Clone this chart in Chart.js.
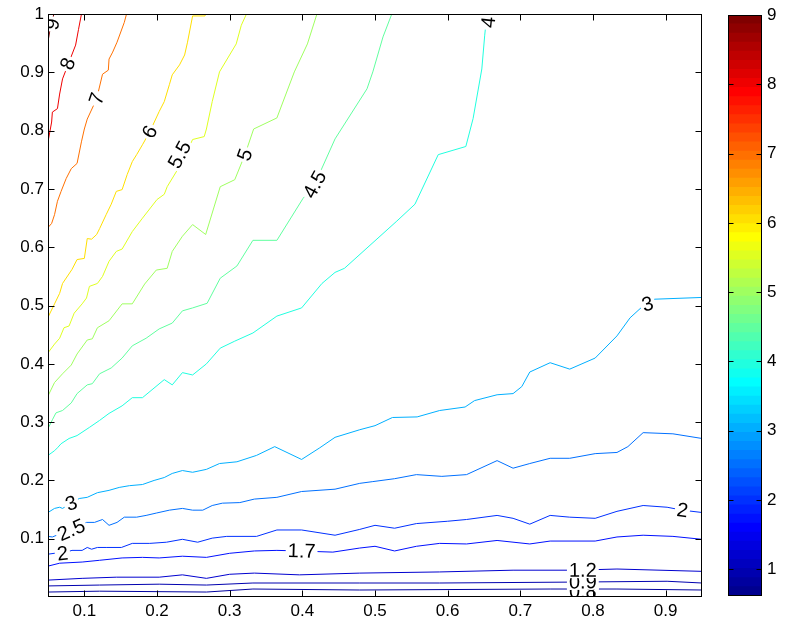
<!DOCTYPE html>
<html>
<head>
    <title>Contour plot</title>
    <script src="https://cdn.jsdelivr.net/npm/chart.js"></script>
    <style>
        body { margin: 0; background: #fff; }
        #wrap { position: relative; width: 789px; height: 619px; }
        #plot { position: absolute; left: 0; top: 0; }
        #cbar { position: absolute; left: 715px; top: 0; }
    </style>
</head>
<body>
<div id="wrap">
    <canvas id="plot" width="715" height="619"></canvas>
    <canvas id="cbar" width="74" height="619"></canvas>
</div>
<script>
    // axis ticks
    const xTicks = [0.1, 0.2, 0.3, 0.4, 0.5, 0.6, 0.7, 0.8, 0.9];
    const yTicks = [0.1, 0.2, 0.3, 0.4, 0.5, 0.6, 0.7, 0.8, 0.9, 1];
    const cbarTicks = [1, 2, 3, 4, 5, 6, 7, 8, 9];
    const cMin = 0.613, cMax = 9.0;

    // contour lines, [x, y]
    const c9 = [[0.05,0.953],[0.052,0.968],[0.055,0.985],[0.058,1.0]];
    const c8 = [[0.096,1.0],[0.092,0.974],[0.088,0.947],[0.079,0.918],[0.070,0.889],[0.066,0.863],[0.063,0.838],[0.056,0.832],[0.055,0.815],[0.05,0.781]];
    const c7 = [[0.158,1.0],[0.155,0.986],[0.145,0.952],[0.139,0.935],[0.134,0.923],[0.133,0.904],[0.125,0.897],[0.117,0.855],[0.104,0.82],[0.1,0.803],[0.096,0.781],[0.09,0.744],[0.082,0.735],[0.075,0.718],[0.068,0.696],[0.063,0.679],[0.059,0.656],[0.055,0.641],[0.05,0.634]];
    const c6 = [[0.267,1.0],[0.266,0.997],[0.249,0.997],[0.242,0.952],[0.238,0.93],[0.231,0.913],[0.221,0.896],[0.217,0.879],[0.21,0.85],[0.203,0.833],[0.19,0.798],[0.18,0.776],[0.172,0.759],[0.166,0.747],[0.159,0.725],[0.152,0.699],[0.144,0.696],[0.137,0.674],[0.13,0.656],[0.121,0.632],[0.117,0.622],[0.11,0.614],[0.104,0.615],[0.1,0.581],[0.09,0.579],[0.083,0.562],[0.07,0.538],[0.066,0.521],[0.059,0.503],[0.05,0.48]];
    const c55 = [[0.323,1.0],[0.316,0.981],[0.309,0.949],[0.286,0.901],[0.276,0.85],[0.268,0.803],[0.265,0.79],[0.249,0.785],[0.235,0.747],[0.214,0.704],[0.21,0.691],[0.2,0.682],[0.18,0.65],[0.166,0.627],[0.152,0.597],[0.144,0.593],[0.134,0.576],[0.125,0.55],[0.118,0.538],[0.107,0.533],[0.103,0.513],[0.097,0.503],[0.086,0.487],[0.079,0.465],[0.072,0.462],[0.066,0.444],[0.059,0.434],[0.05,0.419]];
    const c5 = [[0.42,1.0],[0.407,0.949],[0.389,0.901],[0.365,0.822],[0.333,0.803],[0.321,0.759],[0.307,0.716],[0.287,0.704],[0.267,0.622],[0.249,0.639],[0.235,0.619],[0.221,0.593],[0.214,0.564],[0.199,0.561],[0.183,0.537],[0.166,0.503],[0.152,0.503],[0.134,0.474],[0.118,0.462],[0.111,0.443],[0.104,0.441],[0.09,0.417],[0.082,0.398],[0.07,0.383],[0.059,0.368],[0.05,0.345]];
    const c45 = [[0.523,1.0],[0.511,0.961],[0.497,0.901],[0.489,0.872],[0.445,0.786],[0.417,0.708],[0.401,0.684],[0.365,0.612],[0.332,0.612],[0.31,0.568],[0.287,0.547],[0.269,0.504],[0.249,0.496],[0.235,0.491],[0.221,0.47],[0.203,0.46],[0.185,0.444],[0.166,0.431],[0.152,0.41],[0.137,0.393],[0.121,0.383],[0.111,0.366],[0.104,0.364],[0.09,0.349],[0.082,0.333],[0.07,0.32],[0.061,0.316],[0.056,0.304],[0.05,0.289]];
    const c4 = [[0.654,1.0],[0.651,0.964],[0.647,0.906],[0.635,0.821],[0.625,0.773],[0.587,0.759],[0.555,0.674],[0.53,0.645],[0.458,0.564],[0.445,0.557],[0.427,0.538],[0.399,0.496],[0.365,0.482],[0.332,0.453],[0.307,0.439],[0.287,0.427],[0.268,0.4],[0.249,0.381],[0.235,0.385],[0.221,0.364],[0.21,0.373],[0.18,0.342],[0.166,0.342],[0.152,0.328],[0.134,0.315],[0.121,0.303],[0.107,0.291],[0.09,0.277],[0.079,0.272],[0.068,0.263],[0.063,0.256],[0.059,0.251],[0.05,0.243]];
    const c3 = [[0.05,0.145],[0.059,0.152],[0.066,0.154],[0.07,0.152],[0.082,0.161],[0.093,0.169],[0.104,0.171],[0.118,0.179],[0.134,0.183],[0.148,0.188],[0.162,0.191],[0.18,0.193],[0.196,0.2],[0.21,0.205],[0.221,0.212],[0.235,0.217],[0.249,0.214],[0.268,0.219],[0.286,0.229],[0.31,0.232],[0.337,0.243],[0.362,0.258],[0.399,0.236],[0.424,0.256],[0.445,0.274],[0.479,0.287],[0.5,0.294],[0.524,0.308],[0.558,0.309],[0.589,0.32],[0.624,0.326],[0.637,0.337],[0.668,0.347],[0.69,0.349],[0.702,0.361],[0.713,0.386],[0.741,0.402],[0.768,0.391],[0.803,0.41],[0.833,0.448],[0.851,0.479],[0.872,0.503],[0.885,0.511],[0.95,0.514]];
    const c25 = [[0.05,0.104],[0.056,0.103],[0.066,0.108],[0.082,0.115],[0.103,0.128],[0.114,0.128],[0.125,0.133],[0.134,0.123],[0.145,0.128],[0.155,0.137],[0.172,0.137],[0.185,0.14],[0.199,0.144],[0.217,0.149],[0.235,0.152],[0.249,0.149],[0.263,0.149],[0.276,0.157],[0.29,0.161],[0.314,0.162],[0.334,0.168],[0.365,0.171],[0.399,0.181],[0.445,0.185],[0.479,0.195],[0.497,0.198],[0.527,0.203],[0.557,0.21],[0.592,0.207],[0.626,0.21],[0.668,0.234],[0.69,0.221],[0.713,0.229],[0.741,0.238],[0.768,0.238],[0.803,0.246],[0.833,0.248],[0.848,0.258],[0.869,0.282],[0.91,0.28],[0.95,0.272]];
    const c2 = [[0.05,0.0735],[0.059,0.075],[0.07,0.075],[0.083,0.08],[0.097,0.08],[0.104,0.085],[0.11,0.082],[0.118,0.085],[0.13,0.085],[0.151,0.085],[0.166,0.092],[0.19,0.092],[0.213,0.094],[0.235,0.099],[0.256,0.094],[0.276,0.101],[0.296,0.104],[0.337,0.104],[0.365,0.115],[0.399,0.115],[0.445,0.106],[0.479,0.116],[0.5,0.123],[0.527,0.118],[0.557,0.126],[0.6,0.13],[0.626,0.133],[0.668,0.14],[0.69,0.135],[0.713,0.125],[0.741,0.14],[0.768,0.137],[0.803,0.135],[0.833,0.147],[0.869,0.157],[0.902,0.154],[0.923,0.149],[0.95,0.145]];
    const c17 = [[0.05,0.053],[0.066,0.058],[0.097,0.06],[0.121,0.063],[0.152,0.067],[0.18,0.068],[0.203,0.067],[0.235,0.07],[0.268,0.068],[0.3,0.075],[0.334,0.079],[0.365,0.08],[0.396,0.079],[0.442,0.077],[0.479,0.084],[0.5,0.087],[0.527,0.079],[0.557,0.087],[0.589,0.092],[0.626,0.091],[0.668,0.097],[0.713,0.091],[0.741,0.096],[0.803,0.096],[0.833,0.103],[0.869,0.106],[0.91,0.104],[0.95,0.099]];
    const c12 = [[0.05,0.029],[0.097,0.032],[0.144,0.034],[0.203,0.034],[0.235,0.038],[0.268,0.032],[0.3,0.039],[0.334,0.041],[0.396,0.038],[0.479,0.041],[0.589,0.043],[0.69,0.046],[0.775,0.046],[0.833,0.048],[0.95,0.044]];
    const c09 = [[0.05,0.019],[0.121,0.0205],[0.203,0.022],[0.268,0.0205],[0.332,0.024],[0.479,0.024],[0.589,0.024],[0.773,0.0256],[0.902,0.027],[0.95,0.024]];
    const c08 = [[0.05,0.0085],[0.121,0.01],[0.268,0.0085],[0.332,0.0137],[0.479,0.012],[0.741,0.0137],[0.833,0.0137],[0.95,0.012]];

    const levels = [9, 8, 7, 6, 5.5, 5, 4.5, 4, 3, 2.5, 2, 1.7, 1.2, 0.9, 0.8];
    const lines = [c9, c8, c7, c6, c55, c5, c45, c4, c3, c25, c2, c17, c12, c09, c08];

    // inline labels
    const labelText = ['0.8', '0.9', '1.2', '1.7', '2', '2', '2.5', '3', '3', '4', '4.5', '5', '5.5', '6', '7', '8', '9'];
    const labelX = [0.786, 0.786, 0.786, 0.399, 0.07, 0.923, 0.082, 0.082, 0.875, 0.656, 0.417, 0.321, 0.231, 0.19, 0.117, 0.077, 0.056];
    const labelY = [0.01, 0.026, 0.046, 0.079, 0.075, 0.149, 0.115, 0.161, 0.503, 0.986, 0.708, 0.759, 0.759, 0.798, 0.855, 0.915, 0.983];

    const FONT = '"Liberation Sans", Helvetica, Arial, sans-serif';

    // matlab jet(64)
    function jet64() {
        const rows = [];
        for (let i = 0; i < 64; i++) rows.push([0, 0, 0]);
        for (let k = 0; k < 47; k++) {
            const u = k < 16 ? (k + 1) / 16 : (k < 31 ? 1 : (47 - k) / 16);
            const g = 8 + k, r = g + 16, b = g - 16;
            if (r < 64) rows[r][0] = u;
            if (g < 64) rows[g][1] = u;
            if (b >= 0 && b < 64) rows[b][2] = u;
        }
        return rows.map(c => 'rgb(' + c.map(v => Math.round(v * 255)).join(',') + ')');
    }
    const jet = jet64();
    function levelColor(v) {
        let i = Math.floor((v - cMin) / (cMax - cMin) * 64);
        return jet[Math.max(0, Math.min(63, i))];
    }

    const contourLabels = {
        id: 'contourLabels',
        afterDatasetsDraw(chart) {
            const { ctx, chartArea: a, scales: { x, y } } = chart;
            ctx.save();
            ctx.beginPath();
            ctx.rect(a.left, a.top, a.right - a.left, a.bottom - a.top);
            ctx.clip();
            ctx.font = '20px ' + FONT;
            ctx.textAlign = 'center';
            ctx.textBaseline = 'middle';
            labelText.forEach((t, i) => {
                const px = x.getPixelForValue(labelX[i]), py = y.getPixelForValue(labelY[i]);
                const pts = lines[levels.indexOf(parseFloat(t))].map(p => [x.getPixelForValue(p[0]), y.getPixelForValue(p[1])]);
                let k = 0, best = Infinity;
                pts.forEach((p, j) => {
                    const d = Math.hypot(p[0] - px, p[1] - py);
                    if (d < best) { best = d; k = j; }
                });
                let a0 = k, a1 = k;
                while (a0 > 0 && Math.hypot(pts[a0][0] - px, pts[a0][1] - py) < 12) a0--;
                while (a1 < pts.length - 1 && Math.hypot(pts[a1][0] - px, pts[a1][1] - py) < 12) a1++;
                let ang = Math.atan2(pts[a1][1] - pts[a0][1], pts[a1][0] - pts[a0][0]);
                if (ang > Math.PI / 2) ang -= Math.PI;
                if (ang < -Math.PI / 2) ang += Math.PI;
                ctx.save();
                ctx.translate(px, py);
                ctx.rotate(ang);
                const w = ctx.measureText(t).width;
                ctx.fillStyle = '#fff';
                ctx.fillRect(-w / 2 - 2, -8, w + 4, 16);
                ctx.fillStyle = '#000';
                ctx.fillText(t, 0, 1);
                ctx.restore();
            });
            ctx.restore();
        }
    };

    // box with inward ticks, like matlab
    function boxPlugin(tickLen, xt, yt) {
        return {
            id: 'box',
            afterDraw(chart) {
                const { ctx, chartArea: a, scales } = chart;
                const L = Math.round(a.left) + 0.5, R = Math.round(a.right) - 0.5;
                const T = Math.round(a.top) + 0.5, B = Math.round(a.bottom) - 0.5;
                ctx.save();
                ctx.strokeStyle = '#000';
                ctx.lineWidth = 1;
                ctx.beginPath();
                if (xt) xt.forEach(v => {
                    const p = Math.round(scales.x.getPixelForValue(v)) + 0.5;
                    ctx.moveTo(p, B); ctx.lineTo(p, B - tickLen);
                    ctx.moveTo(p, T); ctx.lineTo(p, T + tickLen);
                });
                yt.forEach(v => {
                    const p = Math.round(scales.y.getPixelForValue(v)) + 0.5;
                    ctx.moveTo(L, p); ctx.lineTo(L + tickLen, p);
                    ctx.moveTo(R, p); ctx.lineTo(R - tickLen, p);
                });
                ctx.stroke();
                ctx.strokeRect(L, T, R - L, B - T);
                ctx.restore();
            }
        };
    }

    Chart.defaults.font.family = FONT;
    Chart.defaults.color = '#000';

    new Chart(document.getElementById('plot'), {
        type: 'scatter',
        data: {
            datasets: lines.map((pts, i) => ({
                data: pts.map(p => ({ x: p[0], y: p[1] })),
                showLine: true,
                borderColor: levelColor(levels[i]),
                borderWidth: 1,
                pointRadius: 0,
                tension: 0
            }))
        },
        options: {
            responsive: false,
            animation: false,
            layout: { padding: { left: 0, top: 12, right: 13, bottom: 0 } },
            plugins: { legend: { display: false }, tooltip: { enabled: false } },
            scales: {
                x: {
                    type: 'linear', min: 0.05, max: 0.95,
                    grid: { display: false, drawTicks: false },
                    border: { display: false },
                    afterBuildTicks: s => { s.ticks = xTicks.map(v => ({ value: v })); },
                    afterFit: s => { s.height = 22; },
                    ticks: { font: { size: 17 }, padding: 4, maxRotation: 0, callback: v => String(v) }
                },
                y: {
                    type: 'linear', min: 0, max: 1,
                    grid: { display: false, drawTicks: false },
                    border: { display: false },
                    afterBuildTicks: s => { s.ticks = yTicks.map(v => ({ value: v })); },
                    afterFit: s => { s.width = 48; },
                    ticks: { font: { size: 17 }, padding: 4, callback: v => String(v) }
                }
            }
        },
        plugins: [contourLabels, boxPlugin(6, xTicks, yTicks)]
    });

    // colorbar: 64 bands of jet
    const step = (cMax - cMin) / 64;
    new Chart(document.getElementById('cbar'), {
        type: 'bar',
        data: {
            labels: [''],
            datasets: jet.map((c, i) => ({
                data: [[cMin + i * step, cMin + (i + 1) * step + 0.005]],
                backgroundColor: c,
                borderWidth: 0,
                grouped: false,
                barPercentage: 1,
                categoryPercentage: 1
            }))
        },
        options: {
            responsive: false,
            animation: false,
            layout: { padding: { left: 13, top: 11, right: 0, bottom: 23 } },
            plugins: { legend: { display: false }, tooltip: { enabled: false } },
            scales: {
                x: { display: false },
                y: {
                    position: 'right', min: cMin, max: cMax,
                    grid: { display: false, drawTicks: false },
                    border: { display: false },
                    afterBuildTicks: s => { s.ticks = cbarTicks.map(v => ({ value: v })); },
                    afterFit: s => { s.width = 27; },
                    ticks: { font: { size: 17 }, padding: 5, callback: v => String(v) }
                }
            }
        },
        plugins: [boxPlugin(5, null, cbarTicks)]
    });
</script>
</body>
</html>
